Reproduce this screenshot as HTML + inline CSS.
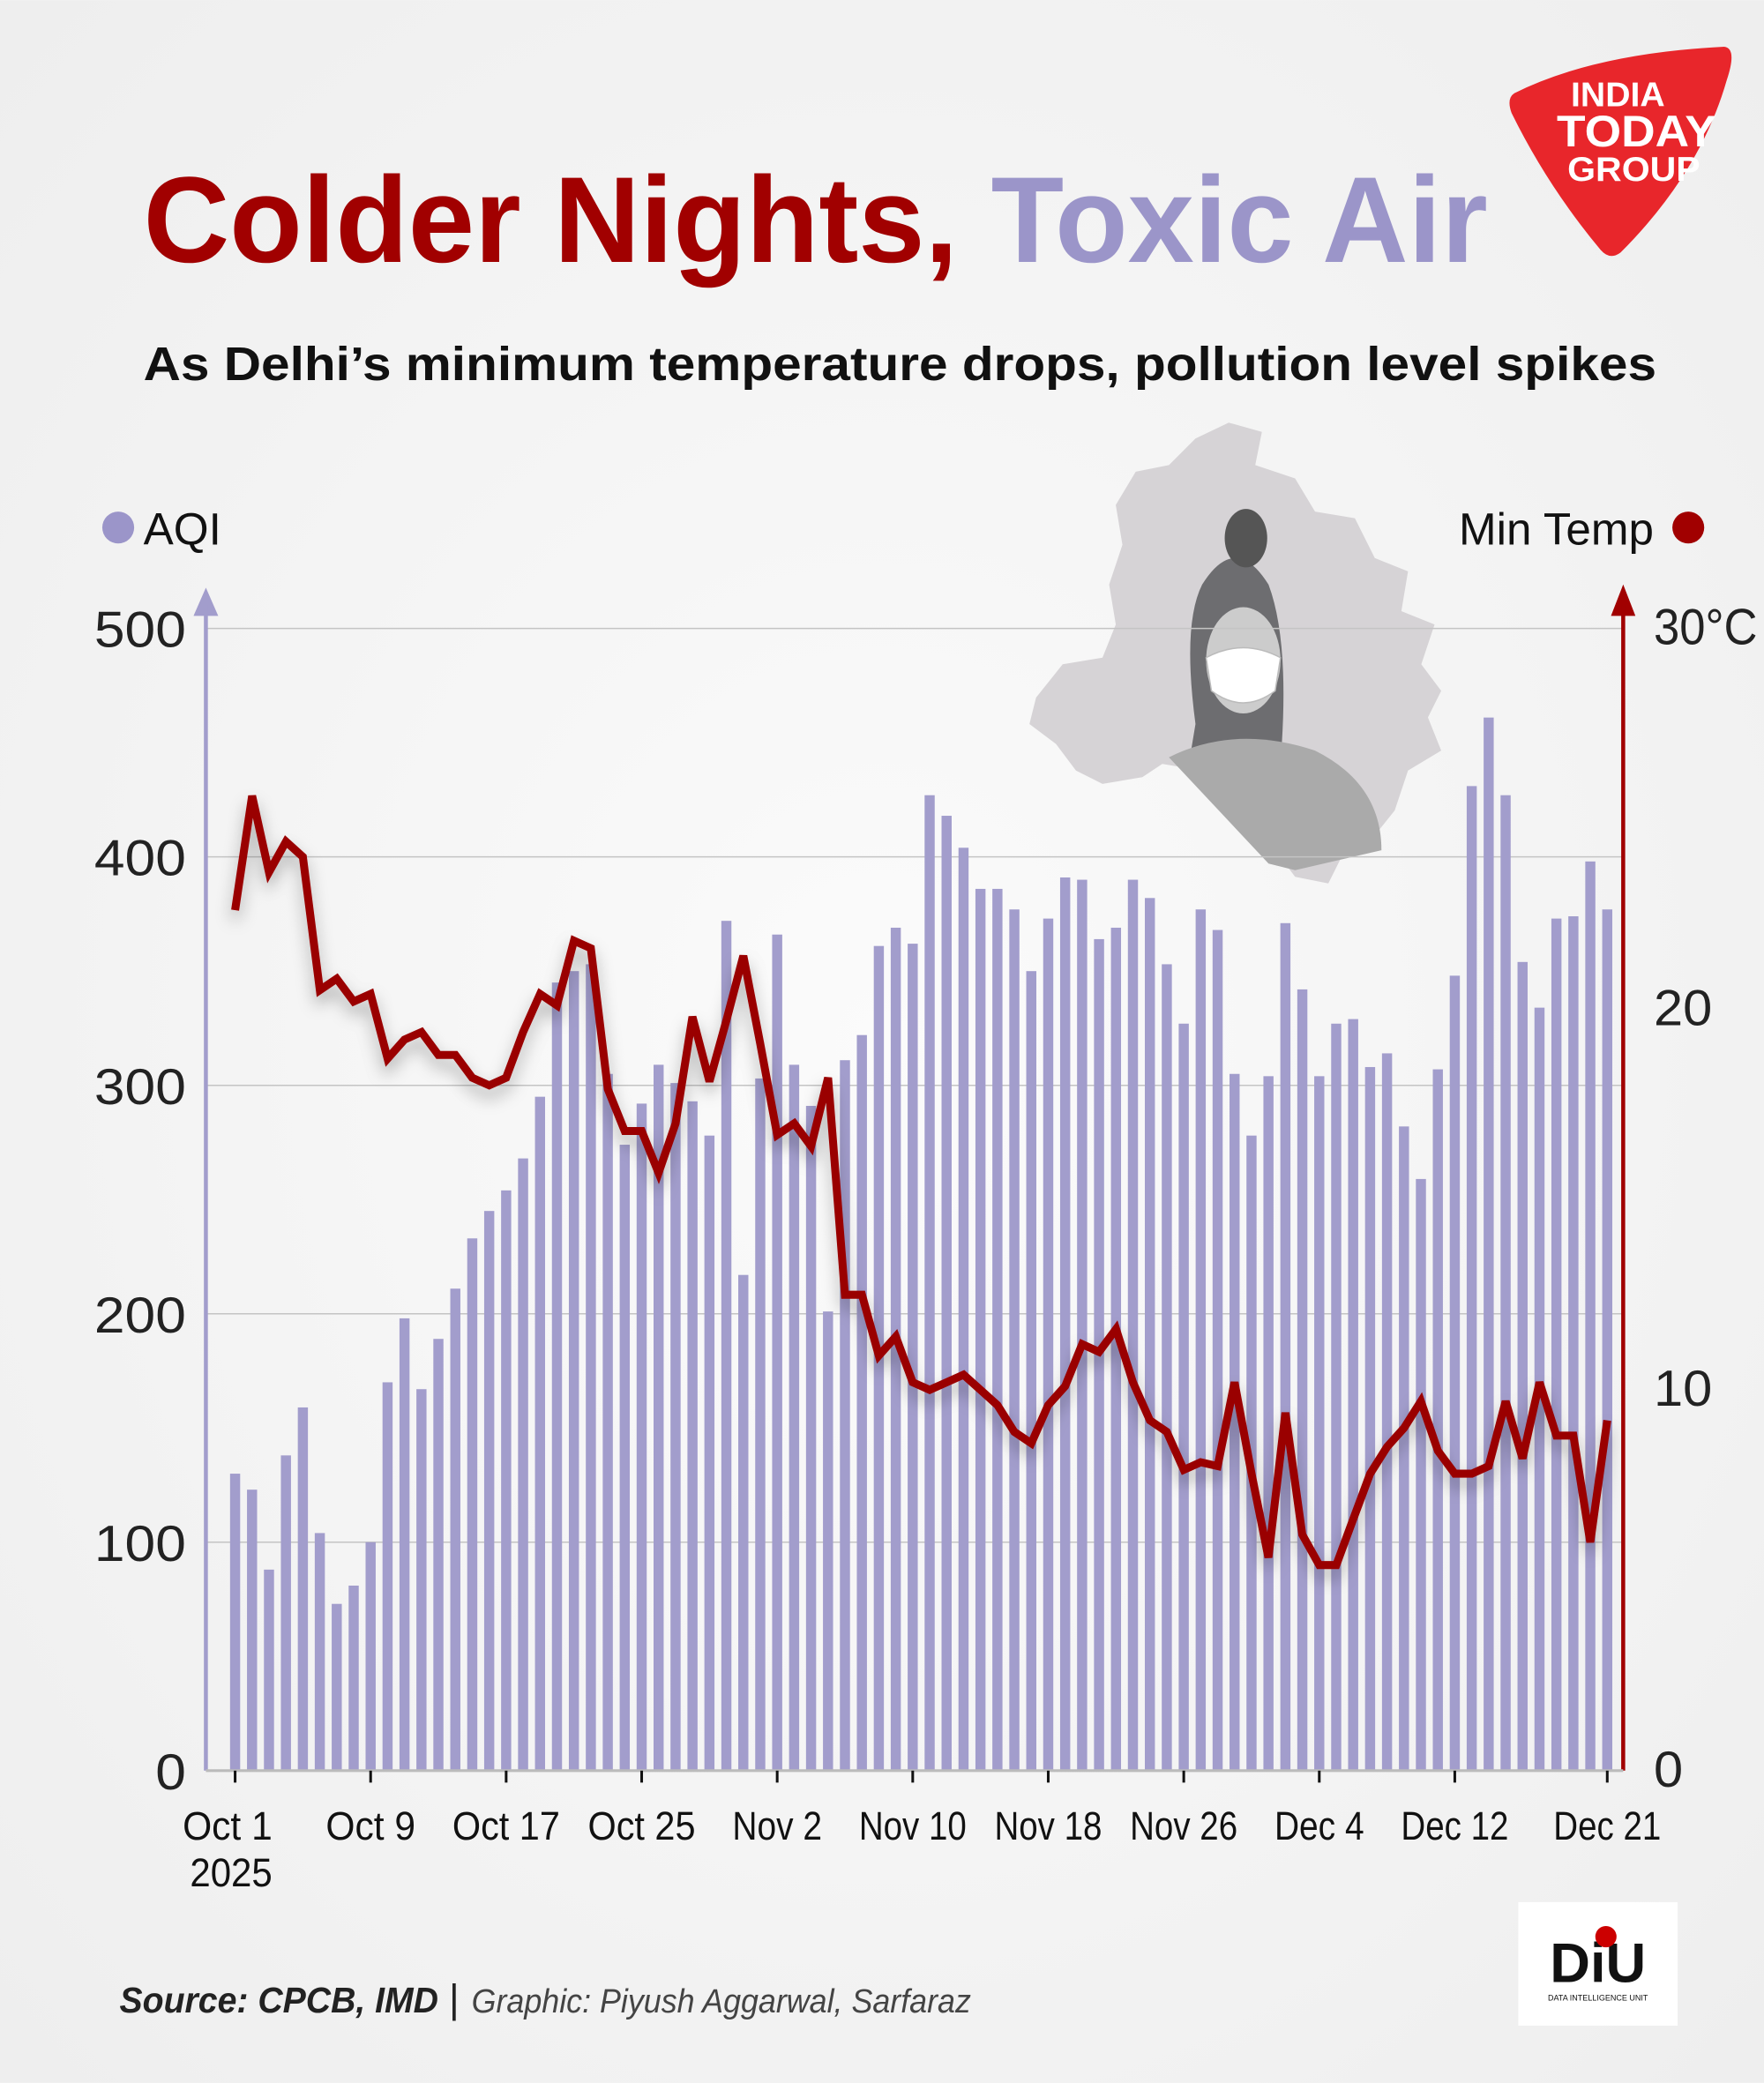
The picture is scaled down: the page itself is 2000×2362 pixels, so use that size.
<!DOCTYPE html>
<html><head><meta charset="utf-8"><style>
html,body{margin:0;padding:0;background:#f3f3f3;}
svg{display:block;font-family:"Liberation Sans",sans-serif;}
</style></head><body>
<svg id="chart" width="2000" height="2362" viewBox="0 0 1328 1568" xmlns="http://www.w3.org/2000/svg">
<defs>
<filter id="shadow" x="-10%" y="-10%" width="120%" height="130%"><feDropShadow dx="0" dy="7" stdDeviation="6" flood-color="#000" flood-opacity="0.3"/></filter>
<radialGradient id="bg" cx="0.5" cy="0.5" r="0.7"><stop offset="0" stop-color="#fbfbfb"/><stop offset="1" stop-color="#eeeeee"/></radialGradient>
</defs>
<rect x="0" y="0" width="1328" height="1568" fill="url(#bg)"/>
<text x="108" y="197" font-size="92" font-weight="bold" textLength="1012" lengthAdjust="spacingAndGlyphs"><tspan fill="#a10000">Colder Nights, </tspan><tspan fill="#9b95c9">Toxic Air</tspan></text>
<text x="108" y="286" font-size="36" font-weight="bold" fill="#111" textLength="1139" lengthAdjust="spacingAndGlyphs">As Delhi’s minimum temperature drops, pollution level spikes</text>
<g>
<path d="M1140 70 Q1200 40 1298 35 Q1308 36 1300 60 Q1280 130 1220 190 Q1212 196 1205 188 Q1165 140 1138 85 Q1134 74 1140 70Z" fill="#e8262b"/>
<text x="1218" y="80" font-size="26" font-weight="bold" fill="#fff" text-anchor="middle">INDIA</text>
<text x="1232" y="110" font-size="33" font-weight="bold" fill="#fff" text-anchor="middle" textLength="120" lengthAdjust="spacingAndGlyphs">TODAY</text>
<text x="1230" y="136" font-size="26" font-weight="bold" fill="#fff" text-anchor="middle" textLength="100" lengthAdjust="spacingAndGlyphs">GROUP</text>
</g>
<g>
<path d="M925 318 L950 325 L945 350 L975 360 L990 385 L1020 390 L1035 420 L1060 430 L1055 460 L1080 470 L1070 500 L1085 520 L1075 540 L1085 565 L1060 580 L1050 610 L1030 635 L1010 645 L1000 665 L975 660 L960 640 L940 630 L920 600 L905 580 L875 575 L860 585 L830 590 L810 580 L795 560 L775 545 L780 525 L800 500 L830 495 L840 470 L835 440 L845 410 L840 380 L855 355 L880 350 L900 330Z" fill="#d6d3d6"/>
<path d="M900 545 Q890 470 905 440 Q930 400 955 440 Q970 480 965 560 L960 650 Q940 620 920 590 L895 575Z" fill="#6d6d70"/>
<ellipse cx="938" cy="405" rx="16" ry="22" fill="#555"/>
<ellipse cx="936" cy="497" rx="28" ry="40" fill="#ccc"/>
<path d="M908 495 Q936 480 964 495 L960 520 Q936 538 912 520Z" fill="#fff" stroke="#bbb"/>
<path d="M880 570 Q930 545 990 565 Q1040 590 1040 640 L975 655 L955 650 Z" fill="#aaa"/>
</g>
<g><circle cx="89" cy="397" r="12" fill="#9b95c9"/><text x="108" y="410" font-size="34" fill="#111">AQI</text></g>
<g><text x="1245" y="410" font-size="34" fill="#111" text-anchor="end">Min Temp</text><circle cx="1271" cy="397" r="12" fill="#a10000"/></g>
<g id="grid"></g>
<g id="bars"></g>
<g id="axes"></g>
<g id="line"></g>
<g>
<text x="90" y="1515" font-size="27" font-style="italic" font-weight="bold" fill="#222" textLength="240" lengthAdjust="spacingAndGlyphs">Source: CPCB, IMD</text>
<text x="338" y="1515" font-size="30" fill="#222">|</text>
<text x="355" y="1515" font-size="25" font-style="italic" fill="#444" textLength="376" lengthAdjust="spacingAndGlyphs">Graphic: Piyush Aggarwal, Sarfaraz</text>
</g>
<g>
<rect x="1143" y="1432" width="120" height="93" fill="#fff"/>
<text x="1203" y="1492" font-size="42" font-weight="bold" fill="#111" text-anchor="middle">DiU</text>
<circle cx="1209" cy="1458" r="8" fill="#c00"/>
<text x="1203" y="1506" font-size="6" fill="#111" text-anchor="middle">DATA INTELLIGENCE UNIT</text>
</g>
</svg>
<script>
const aqiValues = [130,123,88,138,159,104,73,81,100,170,198,167,189,211,233,245,254,268,295,345,350,353,305,274,292,309,301,293,278,372,217,303,366,309,291,201,311,322,361,369,362,427,418,404,386,386,377,350,373,391,390,364,369,390,382,353,327,377,368,305,278,304,371,342,304,327,329,308,314,282,259,307,348,431,461,427,354,334,373,374,398,377];
const tempValues = [22.6,25.6,23.6,24.4,24.0,20.5,20.8,20.2,20.4,18.7,19.2,19.4,18.8,18.8,18.2,18.0,18.2,19.4,20.4,20.1,21.8,21.6,17.9,16.8,16.8,15.7,17.0,19.8,18.1,19.7,21.4,19.1,16.7,17.0,16.4,18.2,12.5,12.5,10.9,11.4,10.2,10.0,10.2,10.4,10.0,9.6,8.9,8.6,9.6,10.1,11.2,11.0,11.6,10.2,9.2,8.9,7.9,8.1,8.0,10.2,7.8,5.6,9.4,6.2,5.4,5.4,6.6,7.8,8.5,9.0,9.7,8.4,7.8,7.8,8.0,9.7,8.2,10.2,8.8,8.8,6.0,9.2];
const xTickLabels = ["Oct 1","Oct 9","Oct 17","Oct 25","Nov 2","Nov 10","Nov 18","Nov 26","Dec 4","Dec 12","Dec 21"];
const xTickIndex = [0,8,16,24,32,40,48,56,64,72,81];
const aqiTicks = [0,100,200,300,400,500];
const tempTicks = [0,10,20,30];

const NS="http://www.w3.org/2000/svg";
const X0=177, X1=1210, Y0=1333, YTOP=473;
function xPos(i){return X0+(X1-X0)*i/(aqiValues.length-1);}
function yAqi(v){return Y0-(Y0-YTOP)*v/500;}
function yTemp(t){return Y0-(Y0-YTOP)*t/30;}
function mk(tag,attrs,parent){const e=document.createElementNS(NS,tag);for(const k in attrs)e.setAttribute(k,attrs[k]);parent.appendChild(e);return e;}

const grid=document.getElementById('grid');
aqiTicks.forEach(v=>{
  if(v>0){const l=mk('line',{x1:155,x2:1222,y1:yAqi(v),y2:yAqi(v),stroke:'#c4c4c4','stroke-width':1},grid);
  
  }
  const s=String(v);
  const t=mk('text',{x:140,y:yAqi(v)+14,'font-size':38,fill:'#222','text-anchor':'end',textLength:s.length*23,lengthAdjust:'spacingAndGlyphs'},grid);
  t.textContent=s;
  
  
});
tempTicks.forEach(v=>{
  const s=v===30?'30°C':String(v);
  const t=mk('text',{x:1245,y:yTemp(v)+12,'font-size':38,fill:'#222',textLength:v===30?78:s.length*22,lengthAdjust:'spacingAndGlyphs'},grid);
  t.textContent=s;
  
  
});

const bars=document.getElementById('bars');
aqiValues.forEach((v,i)=>{
  const r=mk('rect',{x:xPos(i)-3.8,y:yAqi(v),width:7.6,height:Y0-yAqi(v),fill:'#a29dcc'},bars);
  
  
});

const axes=document.getElementById('axes');
const la=mk('path',{d:`M155 ${Y0} L155 455 M148 462 L155 446 L162 462Z`,stroke:'#a29dcc','stroke-width':3,fill:'#a29dcc'},axes);


const ra=mk('path',{d:`M1222 ${Y0} L1222 455 M1215 462 L1222 444 L1229 462Z`,stroke:'#a10000','stroke-width':3,fill:'#a10000'},axes);


const xa=mk('line',{x1:155,x2:1222,y1:Y0,y2:Y0,stroke:'#bbb','stroke-width':2},axes);


xTickIndex.forEach((idx,k)=>{
  const x=xPos(idx);
  const tk=mk('line',{x1:x,x2:x,y1:Y0,y2:Y0+9,stroke:'#111','stroke-width':2},axes);
  
  
  const lbl=xTickLabels[k];
  const t=mk('text',{x:k===0?x+28:x,y:1385,'font-size':30,fill:'#111','text-anchor':k===0?'end':'middle',textLength:lbl.length*13.5,lengthAdjust:'spacingAndGlyphs'},axes);
  t.textContent=lbl;
  
  
});
const yr=mk('text',{x:174,y:1420,'font-size':30,fill:'#111','text-anchor':'middle',textLength:62,lengthAdjust:'spacingAndGlyphs'},axes);
yr.textContent='2025';



const lineG=document.getElementById('line');
const d=tempValues.map((t,i)=>(i?'L':'M')+xPos(i).toFixed(1)+' '+yTemp(t).toFixed(1)).join(' ');
const p=mk('path',{d:d,fill:'none',stroke:'#9a0000','stroke-width':6,'stroke-linejoin':'miter','stroke-miterlimit':3,filter:'url(#shadow)'},lineG);


</script>
</body></html>
